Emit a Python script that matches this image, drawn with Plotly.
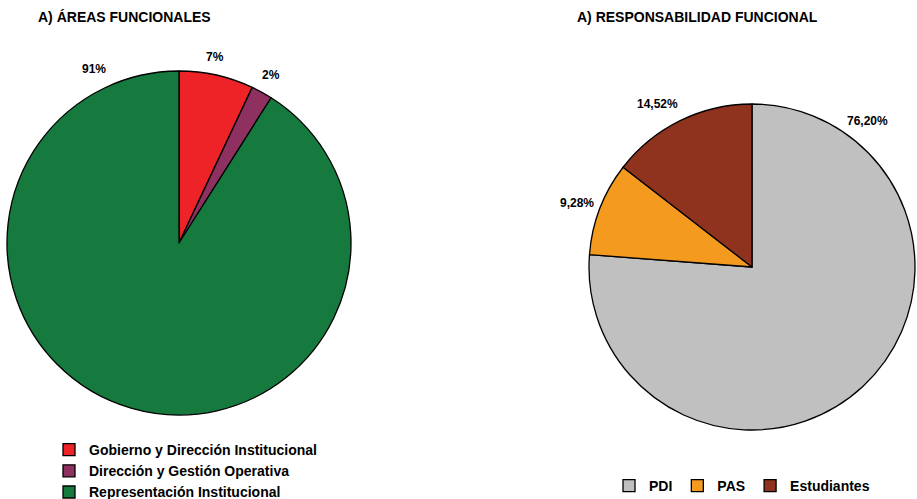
import plotly.graph_objects as go

# datos
areas = ["Gobierno y Dirección Institucional", "Dirección y Gestión Operativa", "Representación Institucional"]
areas_pct = [7, 2, 91]
areas_colors = ["#EE2327", "#8E3060", "#167A3E"]

resp = ["PDI", "PAS", "Estudiantes"]
resp_pct = [76.20, 9.28, 14.52]
resp_colors = ["#C0C0C0", "#F39A1F", "#8F331E"]

FONT = "Liberation Sans, Arial"
W, H = 917, 499


def px(x, y):
    # coordenadas de pantalla -> papel
    return x / W, 1 - y / H


def dom(x0, x1, y0, y1):
    a, b = px(x0, y1)
    c, d = px(x1, y0)
    return dict(x=[max(a, 0), min(c, 1)], y=[max(b, 0), min(d, 1)])


fig = go.Figure()
fig.add_trace(go.Pie(
    labels=[f"<b>{a}</b>" for a in areas], values=areas_pct, sort=False,
    direction="clockwise", rotation=0,
    marker=dict(colors=areas_colors, line=dict(color="black", width=1.3)),
    textinfo="none", hoverinfo="label+percent",
    domain=dom(7, 351, 71, 415),
    legend="legend",
))
fig.add_trace(go.Pie(
    labels=[f"<b>{a}</b>" for a in resp], values=resp_pct, sort=False,
    direction="clockwise", rotation=0,
    marker=dict(colors=resp_colors, line=dict(color="black", width=1.3)),
    textinfo="none", hoverinfo="label+percent",
    domain=dom(589, 915, 104, 430),
    legend="legend2",
))

# etiquetas de porcentaje
left_pos = [(215, 57), (271, 75), (94, 69)]
right_pos = [(867, 121), (577, 203), (657, 104)]
for v, (x, y) in zip(areas_pct, left_pos):
    ax, ay = px(x, y)
    fig.add_annotation(x=ax, y=ay, xref="paper", yref="paper", xanchor="center", yanchor="middle",
                       text=f"<b>{v}%</b>", showarrow=False,
                       font=dict(family=FONT, size=12, color="black"))
for v, (x, y) in zip(resp_pct, right_pos):
    ax, ay = px(x, y)
    fig.add_annotation(x=ax, y=ay, xref="paper", yref="paper", xanchor="center", yanchor="middle",
                       text="<b>" + f"{v:.2f}".replace(".", ",") + "%</b>", showarrow=False,
                       font=dict(family=FONT, size=12, color="black"))

for t, (x, y) in [("A) ÁREAS FUNCIONALES", (124, 17)), ("A) RESPONSABILIDAD FUNCIONAL", (697, 17))]:
    ax, ay = px(x, y)
    fig.add_annotation(x=ax, y=ay, xref="paper", yref="paper", xanchor="center", yanchor="middle",
                       text=f"<b>{t}</b>", showarrow=False,
                       font=dict(family=FONT, size=14, color="black"))

fig.update_layout(
    width=W, height=H,
    paper_bgcolor="white", plot_bgcolor="white",
    margin=dict(l=0, r=0, t=0, b=0, autoexpand=False),
    font=dict(family=FONT, size=14, color="black"),
    legend=dict(x=px(49, 0)[0], y=px(0, 434)[1], xanchor="left", yanchor="top",
                font=dict(family=FONT, size=14, color="black"), tracegroupgap=0,
                itemclick=False, itemdoubleclick=False),
    legend2=dict(x=px(609, 0)[0], y=px(0, 470)[1], xanchor="left", yanchor="top",
                 orientation="h", font=dict(family=FONT, size=14, color="black"),
                 itemclick=False, itemdoubleclick=False),
)

fig.write_html("out.html", config={"displayModeBar": False},
               post_script="document.body.style.margin='0';document.body.style.overflow='hidden';")
